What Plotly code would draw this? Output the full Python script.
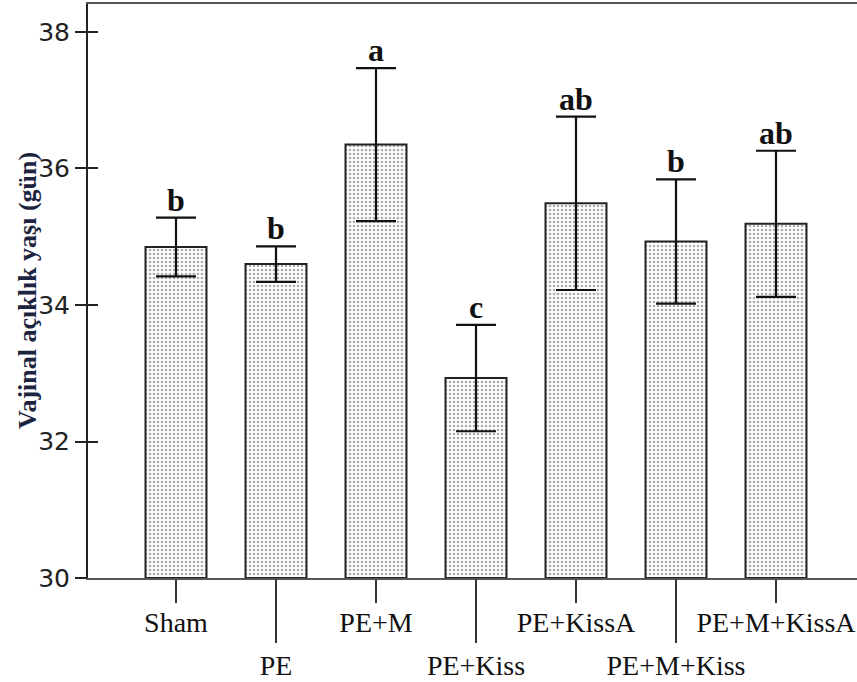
import plotly.graph_objects as go

categories = ["Sham", "PE", "PE+M", "PE+Kiss", "PE+KissA", "PE+M+Kiss", "PE+M+KissA"]
means = [34.85, 34.60, 36.35, 32.93, 35.49, 34.93, 35.19]
sems = [0.43, 0.26, 1.12, 0.78, 1.27, 0.91, 1.07]
letters = ["b", "b", "a", "c", "ab", "b", "ab"]
y_ticks = [30, 32, 34, 36, 38]
y_title = "Vajinal açıklık yaşı (gün)"

xpos = list(range(len(categories)))
upper_idx = [i for i in xpos if i % 2 == 0]
lower_idx = [i for i in xpos if i % 2 == 1]

W, H = 857, 682
ML, MR, MT, MB = 88, 0, 4, 104
XR = [-0.88, 6.81]
YR = [30, 38.41]
SERIF = "Liberation Serif, Times New Roman, serif"

fig = go.Figure()
fig.add_trace(go.Bar(
    x=xpos, y=[m - YR[0] for m in means], base=YR[0], width=0.61,
    marker=dict(color="white",
                pattern=dict(shape=".", size=4, solidity=0.35, fgcolor="#5a5a5a", bgcolor="white"),
                line=dict(color="#222", width=2)),
    error_y=dict(type="data", array=sems, visible=True, color="#111", thickness=2.2, width=20),
    showlegend=False, hoverinfo="skip"))

for i in xpos:
    fig.add_annotation(x=i, y=means[i] + sems[i], xref="x", yref="y",
                       text="<b>%s</b>" % letters[i], showarrow=False, yanchor="bottom",
                       yshift=-2,
                       font=dict(family=SERIF, size=32, color="#111"))

fig.add_annotation(x=(27 - ML) / (W - ML - MR), y=0.5, xref="paper", yref="paper",
                   text="<b>%s</b>" % y_title, textangle=-90, showarrow=False,
                   xanchor="center", yanchor="middle",
                   font=dict(family=SERIF, size=26, color="#1c2440"))

fig.update_layout(
    width=W, height=H, margin=dict(l=ML, r=MR, t=MT, b=MB),
    paper_bgcolor="white", plot_bgcolor="white",
    font=dict(family=SERIF, color="#111"),
    xaxis=dict(range=XR, tickmode="array", tickvals=upper_idx,
               ticktext=[categories[i] for i in upper_idx],
               ticks="outside", ticklen=23, tickwidth=2, tickcolor="#333",
               ticklabelstandoff=-5,
               showline=True, linecolor="#555", linewidth=2, mirror=True,
               showgrid=False, zeroline=False,
               tickfont=dict(family=SERIF, size=28, color="#111")),
    xaxis2=dict(range=XR, overlaying="x", side="bottom", tickmode="array",
                tickvals=lower_idx, ticktext=[categories[i] for i in lower_idx],
                ticks="outside", ticklen=64, tickwidth=2, tickcolor="#333",
                ticklabelstandoff=-2,
                showline=False, showgrid=False, zeroline=False,
                tickfont=dict(family=SERIF, size=28, color="#111")),
    yaxis=dict(range=YR, tickmode="array", tickvals=y_ticks,
               ticks="outside", ticklen=11, tickwidth=2, tickcolor="#222",
               showline=True, linecolor="#222", linewidth=2,
               showgrid=False, zeroline=False,
               tickfont=dict(family="DejaVu Sans", size=25, color="#222")),
    yaxis2=dict(range=YR, overlaying="y", side="left", tickmode="array", tickvals=y_ticks,
                ticks="inside", ticklen=10, tickwidth=2, tickcolor="#222",
                showticklabels=False, showline=False, showgrid=False, zeroline=False),
)
fig.add_trace(go.Scatter(x=[XR[0]], y=[YR[0]], xaxis="x2", yaxis="y2", mode="markers",
                         marker=dict(opacity=0), showlegend=False, hoverinfo="skip"))

fig.write_html("out.html")
